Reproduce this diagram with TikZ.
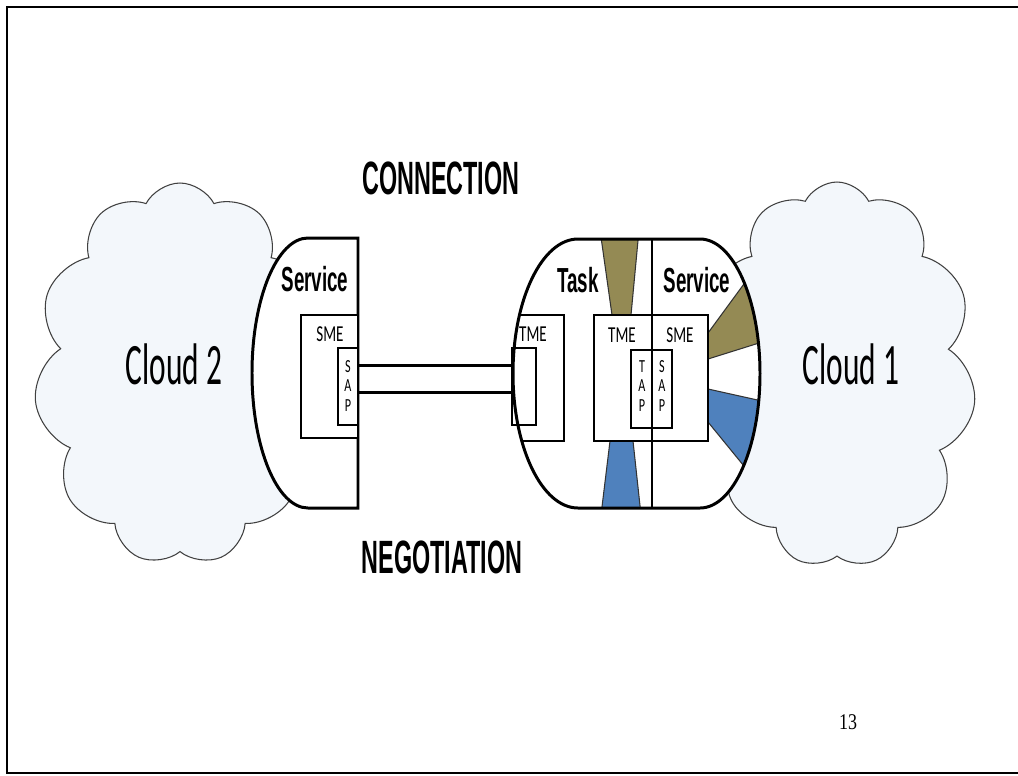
\documentclass[tikz,border=0pt]{standalone}
\usepackage{fontspec}
\usetikzlibrary{shapes.symbols,fit,calc}
\newfontfamily\smallfont[FakeStretch=0.66]{Carlito}
\newfontfamily\cloudfont[FakeStretch=0.535]{Carlito}
\newfontfamily\headfont[FakeStretch=0.54]{Liberation Sans Bold}
\newfontfamily\capfont[FakeStretch=0.5]{Liberation Sans Bold}
\newfontfamily\numfont[FakeStretch=0.8]{Liberation Serif}
\newlength\pxl \setlength\pxl{0.02cm}
\definecolor{wedgeolive}{HTML}{948A54}
\definecolor{wedgeblue}{HTML}{4F81BD}
\definecolor{cloudfill}{HTML}{F3F7FB}
\newcommand\taskpath{(578,239) -- (700,239) .. controls (733.1,239) and (760,299.2) .. (760,373.5) .. controls (760,447.8) and (733.1,508) .. (700,508) -- (578,508) .. controls (542.1,508) and (513,447.8) .. (513,373.5) .. controls (513,299.2) and (542.1,239) .. (578,239) -- cycle}
\tikzset{
  outl/.style={line width=1.7pt},
  box/.style={draw, line width=1.5pt, fill=white, inner sep=0pt},
  cloudshape/.style={cloud, cloud puffs=11, cloud puff arc=125, cloud ignores aspect, draw=black!75, line width=0.6pt, fill=cloudfill, inner sep=0pt},
  wedge/.style={draw=black!80, line width=0.6pt},
  conn/.style={line width=1.7pt},
  cloudlbl/.style={inner sep=0pt, font=\cloudfont\fontsize{33.4}{38}\selectfont},
  headlbl/.style={inner sep=0pt, font=\headfont\fontsize{19.8}{23}\selectfont},
  caplbl/.style={inner sep=0pt, font=\capfont\fontsize{26.6}{30}\selectfont},
  smalllbl/.style={inner sep=0pt, font=\smallfont\fontsize{13}{15}\selectfont},
  letterlbl/.style={inner sep=0pt, align=center, font=\smallfont\fontsize{10.5}{11.3}\selectfont},
}
\begin{document}
\begin{tikzpicture}[x=0.02cm,y=-0.02cm]
\useasboundingbox (0,0) rectangle (1018,775);
\fill[white] (0,0) rectangle (1018,775);
\draw[line width=1.1pt] (1030,7) -- (7,7) -- (7,773) -- (1030,773);

% clouds
\node[cloudshape, minimum width=292\pxl, minimum height=382\pxl] (cloud2) at (180,374) {};
\node[cloudshape, minimum width=278\pxl, minimum height=386\pxl] (cloud1) at (837,375) {};
\node[cloudlbl] (c2t) at (174,364) {Cloud 2};
\node[cloudlbl] (c1t) at (851,364) {Cloud 1};

% left service
\draw[outl, fill=white] (358,238) -- (308,238) .. controls (277.1,238) and (252,298.4) .. (252,373) .. controls (252,447.6) and (277.1,508) .. (308,508) -- (358,508) -- cycle;
\node[box, fit={(301,315) (358,438)}] (sme2) {};
\node[box, fit={(338,348) (358,425)}] (sap2) {};

% task / service
\fill[white] \taskpath;
\begin{scope}
  \clip \taskpath;
  \filldraw[wedge, fill=wedgeolive] (600,230) -- (639,230) -- (631,315) -- (612,315) -- cycle;
  \filldraw[wedge, fill=wedgeblue] (610,441) -- (633,441) -- (641,515) -- (601,515) -- cycle;
  \filldraw[wedge, fill=wedgeolive] (708,333) -- (752,273) -- (780,300) -- (775,338) -- (708,359) -- cycle;
  \filldraw[wedge, fill=wedgeblue] (708,389) -- (780,405) -- (785,450) -- (757,482) -- (708,422) -- cycle;
  \node[box, fit={(490,315) (564,441)}] (tme1) {};
\end{scope}
\node[box, fit={(594,315) (708,441)}] (cbox) {};
\node[box, fit={(631,350) (672,428)}] (tapsap) {};
\node[box, fit={(512,348) (536,425)}] (tin) {};
\draw[line width=1.1pt] (652,239) -- (652,508);
\draw[outl] \taskpath;

% connection
\draw[conn] ($(sap2.north east)!0.234!(sap2.south east)$) -- ($(tin.north west)!0.234!(tin.south west)$);
\draw[conn] ($(sap2.north east)!0.571!(sap2.south east)$) -- ($(tin.north west)!0.571!(tin.south west)$);

% labels
\node[headlbl] (svc2) at (315,279) {Service};
\node[headlbl] (task) at (578,280) {Task};
\node[headlbl] (svc1) at (697,280) {Service};
\node[smalllbl] (sme2t) at (330,334) {SME};
\node[smalllbl] (tme1t) at (533,334) {TME};
\node[smalllbl] (tme2t) at (622,335) {TME};
\node[smalllbl] (sme1t) at (680,335) {SME};
\node[letterlbl] (sap2t) at (348,386) {S\\A\\P};
\node[letterlbl] (tapt) at (642,386) {T\\A\\P};
\node[letterlbl] (sap1t) at (662,386) {S\\A\\P};
\node[caplbl] (connt) at (441,178) {CONNECTION};
\node[caplbl] (negt) at (442,557) {NEGOTIATION};
\node[inner sep=0pt, font=\numfont\fontsize{12.8}{15}\selectfont] (pnum) at (848,722) {13};
\end{tikzpicture}
\end{document}
